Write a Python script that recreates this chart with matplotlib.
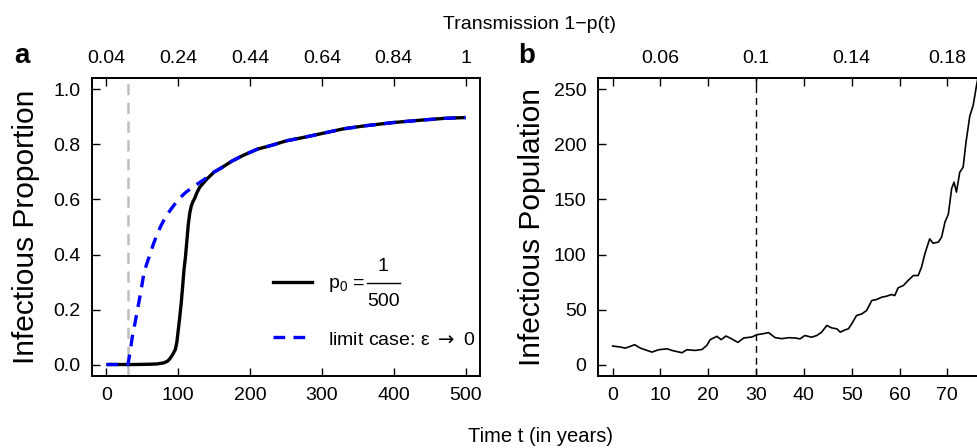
import matplotlib
matplotlib.use("Agg")
import matplotlib.pyplot as plt
from matplotlib.lines import Line2D

plt.rcParams['font.family'] = ['Liberation Sans', 'DejaVu Sans']
plt.rcParams['mathtext.fontset'] = 'custom'
plt.rcParams['mathtext.rm'] = 'Liberation Sans'
plt.rcParams['mathtext.it'] = 'Liberation Sans'
plt.rcParams['mathtext.sf'] = 'Liberation Sans'

# ---------------- data: panel a ----------------
t_black = [0, 40, 60, 70, 80, 85, 88, 92, 96, 98, 100, 102, 104, 106, 108, 110, 112, 114,
           116, 118, 120, 123, 126, 130, 135, 140, 150, 160, 175, 190, 210, 230, 250, 275,
           300, 330, 360, 400, 440, 470, 500]
p_black = [0, 0, 0.001, 0.002, 0.006, 0.012, 0.02, 0.035, 0.055, 0.08, 0.125, 0.17, 0.22,
           0.28, 0.345, 0.39, 0.45, 0.51, 0.55, 0.575, 0.59, 0.605, 0.625, 0.645, 0.66,
           0.675, 0.70, 0.715, 0.74, 0.76, 0.783, 0.797, 0.813, 0.826, 0.84, 0.857, 0.868,
           0.880, 0.889, 0.895, 0.898]
t_limit = [0, 30, 33, 36, 40, 44, 48, 52, 56, 60, 65, 70, 76, 82, 90, 100, 110, 120, 130,
           140, 150, 160, 175, 190, 210, 230, 250, 275, 300, 330, 360, 400, 440, 470, 500]
p_limit = [0, 0, 0.045, 0.10, 0.153, 0.21, 0.265, 0.33, 0.365, 0.395, 0.435, 0.47, 0.505,
           0.535, 0.565, 0.60, 0.625, 0.645, 0.662, 0.68, 0.70, 0.715, 0.74, 0.76, 0.783,
           0.797, 0.813, 0.826, 0.84, 0.857, 0.868, 0.880, 0.889, 0.895, 0.898]
t_switch = 30

xticks_a = [0, 100, 200, 300, 400, 500]
yticks_a = [0.0, 0.2, 0.4, 0.6, 0.8, 1.0]
ytick_labels_a = ['0.0', '0.2', '0.4', '0.6', '0.8', '1.0']
top_ticks_a = [0, 100, 200, 300, 400, 500]
top_labels_a = ['0.04', '0.24', '0.44', '0.64', '0.84', '1']

# ---------------- data: panel b ----------------
t_b = [0, 1.6, 2.6, 3.3, 4.6, 5.8, 6.8, 8.2, 9.6, 11.4, 12.4, 14.5, 15.5, 17.3, 18.7, 19.7,
       20.4, 21.8, 22.7, 23.7, 24.8, 26.2, 27.4, 29.1, 30.2, 31.5, 32.6, 34.0, 35.4, 36.8,
       38.2, 39.2, 40.2, 41.6, 42.7, 43.7, 44.8, 45.8, 46.9, 47.6, 48.6, 49.3, 50.0, 51.0,
       52.1, 53.1, 54.2, 55.2, 56.3, 57.3, 58.3, 59.0, 59.7, 60.8, 61.8, 62.9, 63.9, 64.6,
       65.3, 66.3, 67.0, 68.1, 68.8, 69.5, 70.2, 70.9, 71.4, 71.9, 72.6, 73.3, 73.9, 74.4,
       74.7, 75.4, 76.1, 76.6]
n_b = [16.8, 15.9, 14.9, 15.9, 18.0, 14.9, 13.4, 11.3, 13.4, 14.3, 12.8, 10.7, 13.4, 12.8,
       13.7, 17.4, 22.6, 25.6, 22.6, 25.9, 23.5, 20.1, 24.1, 25.0, 27.1, 28.0, 29.0, 24.4,
       23.5, 24.4, 24.1, 23.3, 26.4, 24.8, 26.4, 29.4, 35.5, 33.3, 32.4, 29.4, 31.5, 32.4,
       37.0, 44.5, 46.0, 49.0, 58.2, 59.1, 61.2, 62.1, 63.6, 62.7, 69.7, 71.8, 76.4, 80.9,
       80.9, 88.5, 100.6, 114.2, 110.3, 111.2, 115.8, 129.4, 136.5, 160.0, 165.7, 156.7,
       174.8, 179.4, 202.0, 217.0, 226.0, 235.5, 253.6, 265.0]

xticks_b = [0, 10, 20, 30, 40, 50, 60, 70]
yticks_b = [0, 50, 100, 150, 200, 250]
top_ticks_b = [0, 10, 20, 30, 40, 50, 60, 70]
top_labels_b = ['', '0.06', '', '0.1', '', '0.14', '', '0.18']

FS = 14
LAB_FS = 21.5
SPINE_LW = 1.4

fig = plt.figure(figsize=(9.77, 4.48), dpi=100)
axa = fig.add_axes([0.0942, 0.1618, 0.3971, 0.663])
axb = fig.add_axes([0.6124, 0.1618, 0.3964, 0.663])


def style(ax):
    for s in ax.spines.values():
        s.set_linewidth(SPINE_LW)
    ax.tick_params(direction='in', length=5.5, width=1.0, labelsize=FS, pad=8.5)


# ---- panel a ----
axa.axvline(t_switch, color='#bebebe', lw=1.8, dashes=(4.5, 3.0), zorder=1)
axa.plot(t_black, p_black, color='black', lw=2.4, solid_capstyle='butt', zorder=2)
axa.plot(t_limit, p_limit, color='#0000ff', lw=2.4, dashes=(3.5, 2.5), zorder=3)
axa.set_xlim(-20, 520)
axa.set_ylim(-0.04, 1.04)
axa.set_xticks(xticks_a)
axa.set_yticks(yticks_a, ytick_labels_a)
style(axa)
sa = axa.secondary_xaxis('top')
sa.set_xticks(top_ticks_a, top_labels_a)
sa.tick_params(direction='in', length=5.5, width=1.0, labelsize=FS, pad=8.0)
sa.spines['top'].set_linewidth(SPINE_LW)
axa.set_ylabel('Infectious Proportion', fontsize=LAB_FS)
axa.yaxis.set_label_coords(-0.135, 0.5)

# ---- legend (drawn by hand, in axes fractions) ----
T = axa.transAxes
axa.add_line(Line2D([0.4665, 0.567], [0.3148, 0.3148], transform=T, color='black', lw=2.4))
axa.add_line(Line2D([0.4665, 0.567], [0.1296, 0.1296], transform=T, color='#0000ff', lw=2.4,
                    dashes=(3.5, 2.5)))
axa.text(0.608, 0.2963, r'p$_0$ =', transform=T, fontsize=FS, ha='left', va='baseline')
axa.add_line(Line2D([0.708, 0.793], [0.3115, 0.3115], transform=T, color='black', lw=1.0))
axa.text(0.7505, 0.351, '1', transform=T, fontsize=FS, ha='center', va='baseline')
axa.text(0.7505, 0.2340, '500', transform=T, fontsize=FS, ha='center', va='baseline')
axa.text(0.608, 0.1027, r'limit case: ε$\;\rightarrow\;$0', transform=T, fontsize=FS,
         ha='left', va='baseline', math_fontfamily='dejavusans')

# ---- panel b ----
axb.axvline(t_switch, color='black', lw=1.0, dashes=(5, 3.5), zorder=1)
axb.plot(t_b, n_b, color='black', lw=1.2, zorder=2)
axb.set_xlim(-3, 78)
axb.set_ylim(-10, 260)
axb.set_xticks(xticks_b)
axb.set_yticks(yticks_b)
style(axb)
sb = axb.secondary_xaxis('top')
sb.set_xticks(top_ticks_b, top_labels_b)
sb.tick_params(direction='in', length=5.5, width=1.0, labelsize=FS, pad=8.0)
sb.spines['top'].set_linewidth(SPINE_LW)
axb.set_ylabel('Infectious Population', fontsize=LAB_FS)
axb.yaxis.set_label_coords(-0.135, 0.5)

# ---- figure texts ----
fig.text(0.542, 0.936, 'Transmission 1\u2212p(t)', fontsize=FS, ha='center', va='baseline')
fig.text(0.5537, 0.014, 'Time t (in years)', fontsize=FS + 0.5, ha='center', va='baseline')
fig.text(0.015, 0.859, 'a', fontsize=20, fontweight='bold', ha='left', va='baseline')
fig.text(0.530, 0.859, 'b', fontsize=20, fontweight='bold', ha='left', va='baseline')

fig.savefig('out.png', dpi=100)
